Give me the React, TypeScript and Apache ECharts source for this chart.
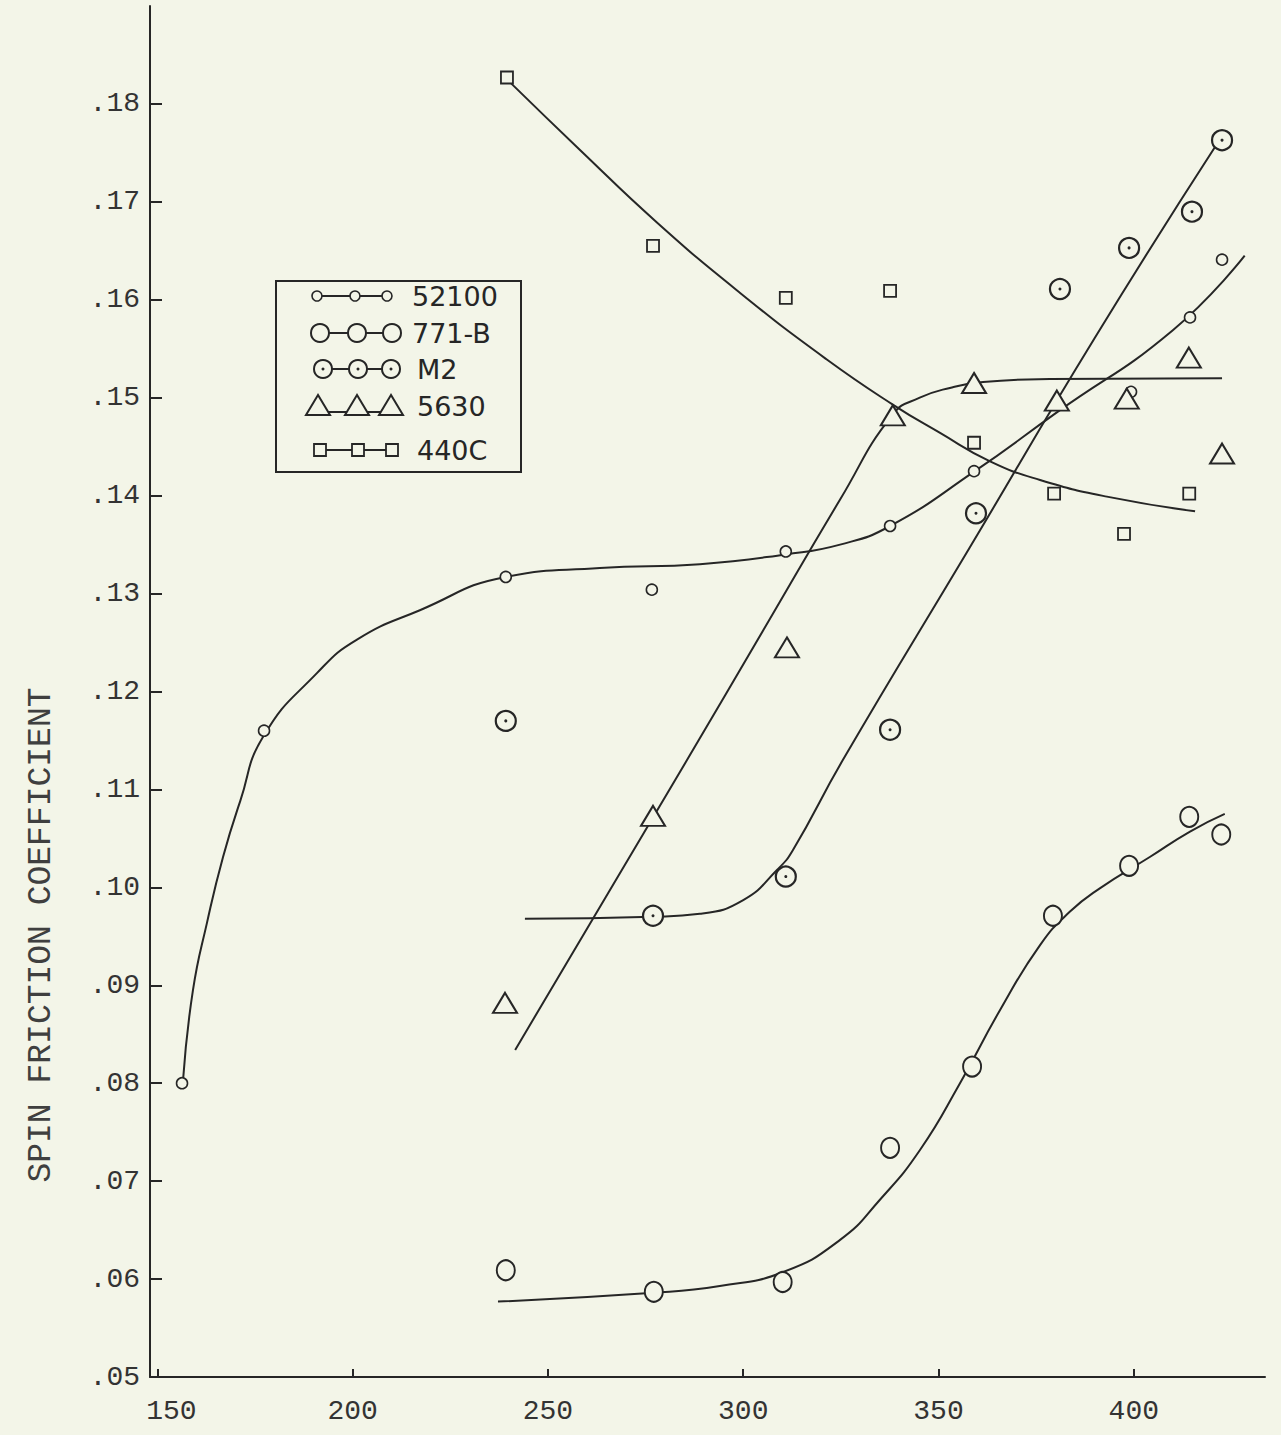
import { useEffect, useRef } from "react";
import * as echarts from "echarts";

// ---------- data ----------
const xTicks = [150, 200, 250, 300, 350, 400];
const yTicks = [0.05, 0.06, 0.07, 0.08, 0.09, 0.1, 0.11, 0.12, 0.13, 0.14, 0.15, 0.16, 0.17, 0.18];
const yAxisTitle = "SPIN FRICTION COEFFICIENT";
const legendLabels = ["52100", "771-B", "M2", "5630", "440C"];

// 52100 (small circles)
const x52100 = [156.3, 177.3, 239.2, 276.6, 310.9, 337.6, 359.1, 399.3, 414.4, 422.6];
const y52100 = [0.08, 0.116, 0.1317, 0.1304, 0.1343, 0.1369, 0.1425, 0.1506, 0.1582, 0.1641];
const fitX52100 = [156.6, 159.1, 162.7, 166.8, 171.2, 177.1, 190.9, 201.1, 217.2, 239.2, 263.3, 288.9, 310.9, 324.8, 337.6, 359.3, 380.3, 410.0, 428.4];
const fitY52100 = [0.0805, 0.0895, 0.0964, 0.1031, 0.1088, 0.1154, 0.1219, 0.1253, 0.1283, 0.1317, 0.1326, 0.133, 0.134, 0.135, 0.1369, 0.1425, 0.1485, 0.1569, 0.1645];

// 771-B (large circles)
const x771B = [239.2, 277.1, 310.1, 337.6, 358.6, 379.3, 398.8, 414.2, 422.4];
const y771B = [0.0609, 0.0587, 0.0597, 0.0734, 0.0817, 0.0971, 0.1022, 0.1072, 0.1054];
const fitX771B = [237.2, 277.1, 294.0, 310.1, 324.8, 335.0, 345.3, 355.5, 365.8, 376.0, 383.6, 391.3, 404.1, 414.4, 423.3];
const fitY771B = [0.0577, 0.0586, 0.0593, 0.0607, 0.064, 0.0681, 0.0732, 0.08, 0.0875, 0.0941, 0.0975, 0.0999, 0.1031, 0.1057, 0.1075];

// M2 (dotted circles)
const xM2 = [239.2, 276.9, 310.9, 337.6, 359.6, 381.1, 398.8, 414.9, 422.6];
const yM2 = [0.117, 0.0971, 0.1011, 0.1161, 0.1382, 0.1611, 0.1653, 0.169, 0.1763];
const fitXM2 = [244.1, 276.9, 288.9, 300.0, 308.7, 312.7, 325.5, 358.0, 390.0, 420.8];
const fitYM2 = [0.0968, 0.097, 0.0973, 0.0987, 0.1018, 0.1038, 0.113, 0.1347, 0.1561, 0.1756];

// 5630 (triangles)
const x5630 = [239.0, 276.9, 311.2, 338.3, 359.1, 380.3, 398.2, 414.1, 422.6];
const y5630 = [0.0882, 0.1073, 0.1245, 0.1482, 0.1515, 0.1497, 0.1499, 0.1541, 0.1443];
const fitX5630 = [241.6, 263.6, 285.6, 305.2, 324.8, 338.3, 345.2, 352.9, 361.4, 378.5, 422.6];
const fitY5630 = [0.0834, 0.0982, 0.113, 0.1263, 0.1396, 0.1483, 0.15, 0.151, 0.1516, 0.1519, 0.152];

// 440C (squares)
const x440C = [239.5, 276.9, 310.9, 337.6, 359.1, 379.6, 397.5, 414.2];
const y440C = [0.1827, 0.1655, 0.1602, 0.1609, 0.1454, 0.1402, 0.1361, 0.1402];
const fitX440C = [240.3, 258.2, 277.9, 299.2, 321.4, 338.3, 350.4, 363.2, 376.0, 393.1, 415.7];
const fitY440C = [0.1822, 0.1753, 0.1679, 0.1607, 0.1539, 0.1493, 0.1464, 0.1435, 0.1416, 0.1399, 0.1384];

// ---------- styles ----------
const INK = "#262626";
const BG = "#f3f5e8";
const MONO = "'Liberation Mono', 'DejaVu Sans Mono', monospace";
const SANS = "'DejaVu Sans', 'Noto Sans', sans-serif";

const zip = (xs: number[], ys: number[]) => xs.map((x, i) => [x, ys[i]]);

function fitLine(name: string, xs: number[], ys: number[]) {
  return {
    name,
    type: "line",
    data: zip(xs, ys),
    smooth: 0.5,
    showSymbol: false,
    symbol: "none",
    silent: true,
    z: 2,
    lineStyle: { color: INK, width: 2 },
  };
}

function marks(name: string, xs: number[], ys: number[], symbol: string, size: any, bw: number, fill = BG) {
  return {
    name,
    type: "scatter",
    data: zip(xs, ys),
    symbol,
    symbolSize: size,
    z: 5,
    itemStyle: { color: fill, borderColor: INK, borderWidth: bw, opacity: 1 },
  };
}

function buildLegend() {
  const els: any[] = [];
  els.push({
    type: "rect",
    shape: { x: 276, y: 281, width: 245, height: 191 },
    style: { fill: BG, stroke: INK, lineWidth: 2 },
    z: 10,
  });
  const rows = [
    { y: 296, xs: [317, 355, 387], kind: "small" },
    { y: 333, xs: [320, 357, 392], kind: "big" },
    { y: 369, xs: [323, 358, 391], kind: "dot" },
    { y: 406, xs: [318, 357, 391], kind: "tri" },
    { y: 450, xs: [320, 358, 392], kind: "sq" },
  ];
  rows.forEach((r, i) => {
    const ly = r.kind === "tri" ? r.y + 6 : r.y;
    els.push({
      type: "line",
      shape: { x1: r.xs[0], y1: ly, x2: r.xs[2], y2: ly },
      style: { stroke: INK, lineWidth: 2 },
      z: 11,
    });
    r.xs.forEach((cx) => {
      if (r.kind === "small") {
        els.push({ type: "circle", shape: { cx, cy: r.y, r: 5 }, style: { fill: BG, stroke: INK, lineWidth: 1.6 }, z: 12 });
      } else if (r.kind === "big") {
        els.push({ type: "circle", shape: { cx, cy: r.y, r: 9 }, style: { fill: BG, stroke: INK, lineWidth: 2 }, z: 12 });
      } else if (r.kind === "dot") {
        els.push({ type: "circle", shape: { cx, cy: r.y, r: 9 }, style: { fill: BG, stroke: INK, lineWidth: 2 }, z: 12 });
        els.push({ type: "circle", shape: { cx, cy: r.y, r: 1.5 }, style: { fill: INK }, z: 13 });
      } else if (r.kind === "tri") {
        els.push({
          type: "polygon",
          shape: { points: [[cx, r.y - 11], [cx - 12, r.y + 9], [cx + 12, r.y + 9]] },
          style: { fill: BG, stroke: INK, lineWidth: 2 },
          z: 12,
        });
      } else {
        els.push({ type: "rect", shape: { x: cx - 6, y: r.y - 6, width: 12, height: 12 }, style: { fill: BG, stroke: INK, lineWidth: 1.8 }, z: 12 });
      }
    });
    els.push({
      type: "text",
      x: i >= 2 ? 417 : 412,
      y: r.y,
      style: {
        text: legendLabels[i],
        fill: INK,
        font: `27px ${SANS}`,
        textAlign: "left",
        textVerticalAlign: "middle",
      },
      z: 12,
    });
  });
  els.push({
    type: "text",
    x: 41,
    y: 935,
    rotation: Math.PI / 2,
    style: {
      text: yAxisTitle,
      fill: "#3f3f3f",
      font: `33px ${MONO}`,
      textAlign: "center",
      textVerticalAlign: "middle",
    },
    z: 12,
  });
  return els;
}

export default function App() {
  const ref = useRef<HTMLDivElement>(null);
  useEffect(() => {
    document.body.style.margin = "0";
    document.body.style.background = BG;
    const chart = echarts.init(ref.current!, undefined, { renderer: "svg" });
    chart.setOption({
      animation: false,
      backgroundColor: BG,
      grid: { left: 150, right: 16, top: 6, bottom: 58, containLabel: false, outerBoundsMode: "none" },
      xAxis: {
        type: "value",
        min: 148.1,
        max: 433.6,
        axisLine: { show: true, lineStyle: { color: INK, width: 2 } },
        axisTick: { show: true, inside: true, length: 8, customValues: xTicks, lineStyle: { color: INK, width: 2 } },
        axisLabel: {
          customValues: xTicks,
          margin: 20,
          color: "#333",
          fontFamily: MONO,
          fontSize: 28,
          formatter: (v: number) => (v === 150 ? `{f|${v}}` : `${v}`),
          rich: { f: { padding: [0, 0, 0, 28], fontFamily: MONO, fontSize: 28, color: "#333" } },
        },
        splitLine: { show: false },
      },
      yAxis: {
        type: "value",
        min: 0.05,
        max: 0.19,
        axisLine: { show: true, lineStyle: { color: INK, width: 2 } },
        axisTick: { show: true, inside: true, length: 12, customValues: yTicks, lineStyle: { color: INK, width: 2 } },
        axisLabel: {
          customValues: yTicks,
          margin: 10,
          color: "#333",
          fontFamily: MONO,
          fontSize: 28,
          formatter: (v: number) => "." + String(Math.round(v * 100)).padStart(2, "0"),
        },
        splitLine: { show: false },
      },
      series: [
        fitLine("52100 fit", fitX52100, fitY52100),
        fitLine("771-B fit", fitX771B, fitY771B),
        fitLine("M2 fit", fitXM2, fitYM2),
        fitLine("5630 fit", fitX5630, fitY5630),
        fitLine("440C fit", fitX440C, fitY440C),
        marks("52100", x52100, y52100, "circle", 11, 1.6),
        marks("771-B", x771B, y771B, "circle", [18, 20], 2),
        marks("M2", xM2, yM2, "circle", 20, 2.2),
        { ...marks("M2 centre", xM2, yM2, "circle", 3, 0, INK), z: 6 },
        marks("5630", x5630, y5630, "triangle", [24, 20], 2),
        marks("440C", x440C, y440C, "rect", 12, 1.8),
      ],
      graphic: { elements: buildLegend() },
    });
    return () => chart.dispose();
  }, []);
  return <div ref={ref} style={{ width: 1281, height: 1435 }} />;
}
